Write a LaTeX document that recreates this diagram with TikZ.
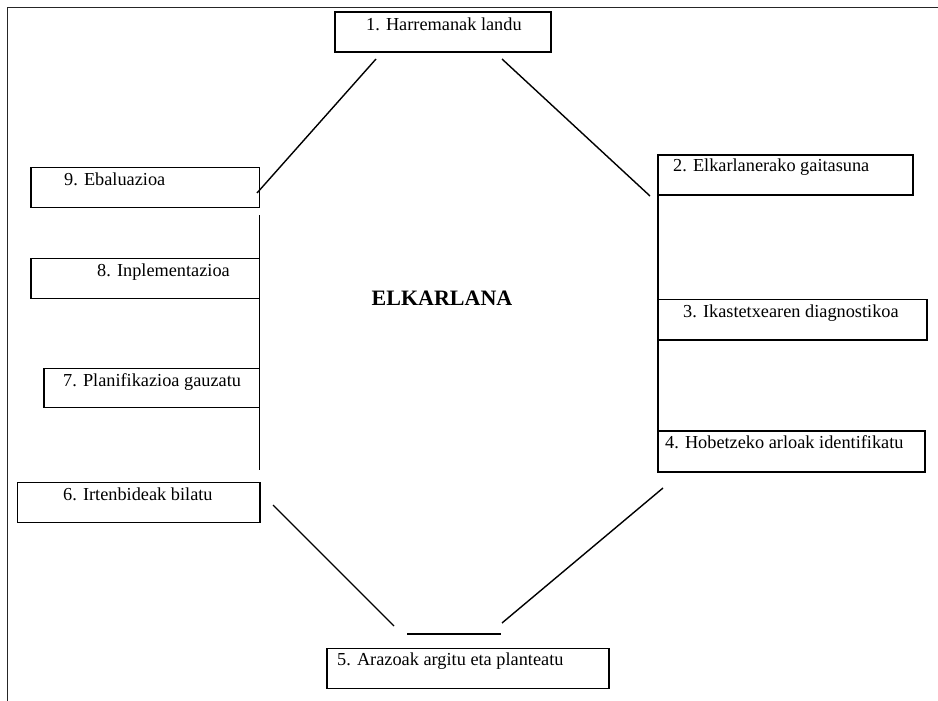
\documentclass[tikz,border=0pt]{standalone}
\usepackage{fontspec}
\setmainfont{Liberation Serif}
\begin{document}
\begin{tikzpicture}[x=1pt,y=-1pt,
  box/.style={draw, line width=1.3pt, inner sep=0pt, outer sep=0pt, anchor=north west},
  lbl/.style={inner sep=0pt, anchor=base west, font=\fontsize{18.3}{20}\selectfont},
  link/.style={line width=1.4pt},
  frameline/.style={line width=1.2pt, draw=black!85}]
\useasboundingbox (0,0) rectangle (938,701);
% outer frame (top and left edges)
\draw[frameline] (7.5,701) -- (7.5,7.5) -- (938,7.5);

% step boxes
\node[box, minimum width=216, minimum height=40] (b1) at (335,12) {};
\node[box, minimum width=255, minimum height=40] (b2) at (658,155) {};
\node[box, minimum width=269, minimum height=40.5] (b3) at (658,299.5) {};
\node[box, minimum width=267, minimum height=41] (b4) at (658,431) {};
\node[box, minimum width=282, minimum height=40] (b5) at (327,648.3) {};
\node[box, minimum width=242.5, minimum height=40] (b6) at (17.5,482.3) {};
\node[box, minimum width=215.5, minimum height=39.5] (b7) at (44,368.3) {};
\node[box, minimum width=228.5, minimum height=40] (b8) at (31,258.3) {};
\node[box, minimum width=228.5, minimum height=40] (b9) at (31,167.3) {};

% step labels
\node[lbl] (t1) at (366,30.5) {1. Harremanak landu};
\node[lbl] (t2) at (673,171.5) {2. Elkarlanerako gaitasuna};
\node[lbl] (t3) at (683,317) {3. Ikastetxearen diagnostikoa};
\node[lbl] (t4) at (665,448.5) {4. Hobetzeko arloak identifikatu};
\node[lbl] (t5) at (337,665.5) {5. Arazoak argitu eta planteatu};
\node[lbl] (t6) at (63,500) {6. Irtenbideak bilatu};
\node[lbl] (t7) at (63,386) {7. Planifikazioa gauzatu};
\node[lbl] (t8) at (97,276) {8. Inplementazioa};
\node[lbl] (t9) at (64,185) {9. Ebaluazioa};

% centre title
\node[inner sep=0pt, font=\fontsize{22}{24}\selectfont\bfseries] (title) at (442,298) {ELKARLANA};

% free ends of the connecting strokes
\coordinate (p1a) at (376,59);
\coordinate (p1b) at (257,193);
\coordinate (p2a) at (502,59);
\coordinate (p2b) at (650,196);
\coordinate (p4a) at (663,488);
\coordinate (p4b) at (502,623);
\coordinate (h5a) at (407,634);
\coordinate (h5b) at (501,634);
\coordinate (p6a) at (394,626);
\coordinate (p6b) at (273,505);
\coordinate (v9) at (259.5,215);
\coordinate (v6) at (259.5,470);

% connecting strokes
\draw[link] (p1a) -- (p1b);
\draw[link] (p2a) -- (p2b);
\draw[link] (b2.south west) -- (b3.north west);
\draw[link] (b3.south west) -- (b4.north west);
\draw[link] (p4a) -- (p4b);
\draw[link] (h5a) -- (h5b);
\draw[link] (p6a) -- (p6b);
\draw[link] (v9) -- (v6);
\end{tikzpicture}
\end{document}
